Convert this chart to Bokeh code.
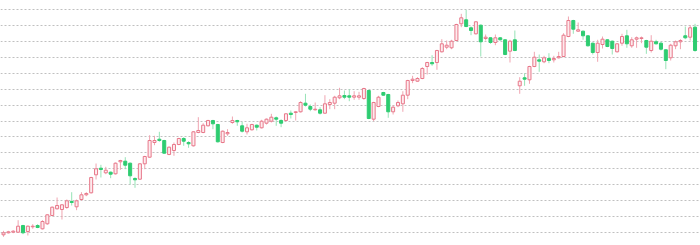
from bokeh.plotting import figure
from bokeh.models import ColumnDataSource, Range1d, FixedTicker
from bokeh.embed import file_html
from bokeh.resources import INLINE

opens = [10.7, 12.7, 13.3, 13.3, 20.0, 14.0, 18.7, 20.0, 16.7, 21.7,
         30.0, 36.7, 36.0, 38.0, 44.0, 38.7, 46.0, 50.7, 52.7, 70.7,
         77.3, 72.7, 73.3, 71.7, 83.7, 84.3, 82.3, 67.0, 66.3, 81.7,
         88.3, 103.0, 106.3, 105.0, 91.0, 95.0, 101.0, 107.0, 103.0, 99.7,
         113.0, 113.0, 119.7, 125.0, 121.0, 103.0, 111.7, 123.0, 125.0, 119.7,
         113.7, 115.7, 120.3, 117.7, 122.3, 124.3, 127.7, 125.0, 125.0, 132.3,
         133.0, 133.7, 142.3, 139.0, 135.7, 135.7, 132.3, 141.0, 142.3, 147.7,
         150.0, 149.7, 148.3, 148.3, 147.0, 155.0, 126.3, 139.0, 153.0, 151.0,
         133.7, 139.7, 141.7, 150.3, 165.0, 164.3, 167.0, 179.0, 183.0, 183.0,
         193.7, 198.3, 197.7, 205.0, 221.7, 225.7, 217.7, 211.7, 220.3, 207.0,
         207.7, 203.0, 207.7, 205.7, 194.3, 205.7, 159.7, 167.7, 165.7, 179.0,
         185.7, 183.7, 187.0, 185.7, 187.7, 189.0, 209.0, 225.0, 214.3, 214.3,
         209.7, 202.3, 193.0, 201.0, 205.7, 204.3, 193.7, 202.3, 209.7, 199.7,
         206.3, 207.0, 205.0, 195.0, 203.7, 202.3, 195.7, 187.7, 199.7, 203.7,
         209.7, 208.3, 218.3]
highs = [14.7, 14.7, 15.3, 25.3, 20.7, 20.0, 21.3, 21.3, 25.3, 31.3,
         39.0, 48.0, 41.3, 46.0, 53.3, 46.0, 53.3, 53.3, 68.7, 82.0,
         80.7, 78.7, 74.0, 83.0, 85.7, 88.3, 83.0, 68.3, 82.3, 89.7,
         110.3, 109.7, 113.7, 105.7, 99.0, 103.0, 107.7, 108.3, 104.3, 114.3,
         128.3, 122.3, 125.7, 125.7, 121.7, 115.0, 116.3, 129.0, 125.7, 123.7,
         121.7, 121.7, 121.0, 125.7, 127.0, 131.7, 129.0, 126.3, 132.3, 135.0,
         134.3, 144.3, 151.7, 141.0, 143.0, 138.3, 150.3, 146.3, 149.7, 157.7,
         155.0, 156.3, 154.3, 153.7, 157.7, 155.7, 143.7, 149.7, 153.7, 151.7,
         140.3, 145.0, 154.3, 165.7, 169.7, 168.3, 178.3, 183.7, 190.3, 195.7,
         206.3, 205.0, 205.7, 221.7, 231.7, 235.7, 219.0, 224.3, 221.0, 211.0,
         208.3, 211.0, 208.3, 206.3, 205.7, 215.0, 168.3, 172.3, 179.7, 193.7,
         191.0, 189.7, 192.3, 189.7, 193.7, 212.3, 229.0, 225.7, 223.0, 215.0,
         210.3, 203.0, 205.7, 209.0, 206.3, 205.0, 202.3, 211.7, 215.7, 208.3,
         209.0, 209.0, 205.7, 210.3, 205.7, 203.7, 196.3, 201.7, 205.0, 206.3,
         219.0, 220.3, 221.7]
lows = [8.7, 12.0, 12.3, 12.7, 11.3, 10.0, 16.7, 17.3, 16.0, 20.7,
        29.3, 36.0, 26.0, 36.7, 40.0, 35.3, 44.7, 49.3, 52.0, 66.0,
        68.0, 71.3, 67.3, 71.0, 75.7, 76.3, 61.0, 57.7, 65.7, 76.3,
        87.7, 100.3, 103.7, 91.7, 90.3, 89.7, 100.3, 99.7, 97.7, 99.0,
        112.3, 112.3, 119.0, 116.3, 103.0, 102.3, 109.7, 121.7, 119.7, 113.0,
        111.0, 115.0, 115.0, 117.0, 121.0, 123.0, 119.7, 118.3, 124.3, 127.0,
        125.0, 133.0, 139.0, 134.3, 135.0, 131.0, 131.7, 136.3, 136.3, 146.3,
        146.3, 144.3, 145.7, 145.7, 145.7, 126.3, 124.3, 138.3, 149.7, 127.7,
        131.0, 138.3, 133.7, 146.3, 162.3, 163.7, 166.3, 171.0, 179.7, 175.7,
        193.0, 196.3, 196.3, 204.3, 218.3, 218.3, 210.3, 211.0, 189.0, 205.0,
        201.7, 200.3, 205.0, 190.3, 183.0, 194.3, 151.7, 159.7, 161.7, 178.3,
        173.7, 182.3, 182.3, 183.0, 187.0, 188.3, 208.3, 211.7, 213.7, 205.7,
        199.0, 191.0, 183.7, 197.0, 198.3, 191.0, 193.0, 199.7, 197.7, 197.7,
        197.7, 202.3, 191.7, 193.0, 201.0, 195.0, 176.3, 185.0, 196.3, 196.3,
        206.3, 205.0, 193.7]
closes = [12.7, 13.7, 14.3, 19.3, 12.7, 19.3, 19.3, 18.0, 24.0, 30.7,
          38.3, 40.0, 40.7, 44.7, 43.0, 44.7, 50.7, 52.0, 68.0, 76.7,
          76.0, 75.3, 71.3, 82.3, 85.0, 80.3, 69.7, 65.7, 81.7, 89.0,
          105.0, 105.0, 105.0, 92.3, 98.3, 101.0, 107.0, 104.3, 101.7, 113.7,
          115.0, 120.3, 125.0, 121.7, 103.7, 114.3, 113.0, 125.0, 123.7, 114.3,
          117.7, 121.0, 118.3, 124.3, 126.3, 128.3, 126.3, 122.3, 131.7, 131.0,
          133.7, 143.0, 140.3, 136.3, 136.3, 132.3, 141.7, 143.0, 148.3, 149.7,
          148.3, 148.3, 149.7, 149.7, 157.0, 127.0, 143.0, 148.3, 150.3, 133.7,
          138.3, 143.0, 150.3, 165.0, 166.3, 167.0, 177.0, 183.0, 181.7, 195.0,
          201.7, 200.3, 204.3, 221.0, 227.7, 219.0, 215.0, 223.7, 203.7, 208.3,
          203.0, 207.7, 205.7, 191.0, 204.3, 195.0, 164.3, 166.3, 179.0, 188.3,
          184.3, 187.7, 185.0, 187.0, 189.0, 210.3, 225.0, 216.3, 215.7, 209.7,
          199.7, 193.0, 202.3, 206.3, 199.0, 197.0, 201.7, 209.0, 201.7, 205.7,
          207.7, 207.7, 198.3, 204.3, 201.7, 196.3, 185.0, 200.3, 203.7, 205.0,
          207.7, 217.7, 195.0]
grid_ticks = [13, 29, 45, 61, 77, 93, 109, 124.5, 140.5, 156.5, 172, 188, 204, 220, 236]

n = len(opens)
idx = list(range(n))
up = [c >= o for o, c in zip(opens, closes)]
down = [not u for u in up]


def pick(lst, mask):
    return [v for v, m in zip(lst, mask) if m]


up_src = ColumnDataSource(dict(
    x=pick(idx, up), o=pick(opens, up), h=pick(highs, up),
    l=pick(lows, up), c=pick(closes, up)))
dn_src = ColumnDataSource(dict(
    x=pick(idx, down), o=pick(opens, down), h=pick(highs, down),
    l=pick(lows, down), c=pick(closes, down)))

p = figure(width=700, height=245, output_backend="svg", toolbar_location=None,
           x_range=Range1d(-0.62, 143.12), y_range=Range1d(0, 245),
           min_border=0, min_border_left=0, min_border_right=0,
           min_border_top=0, min_border_bottom=0)
p.axis.visible = False
p.xgrid.visible = False
p.yaxis.ticker = FixedTicker(ticks=grid_ticks)
p.ygrid.ticker = FixedTicker(ticks=grid_ticks)
p.ygrid.grid_line_color = "#c0c0c0"
p.ygrid.grid_line_dash = "2 2"
p.ygrid.grid_line_width = 1
p.outline_line_color = None
p.background_fill_color = "white"
p.border_fill_color = "white"

RED_LINE = "#e8788a"
RED_WICK = "#f0a5b1"
RED_FILL = "#fdebee"
GREEN = "#2ecc71"
GREEN_WICK = "#96e3b6"

p.segment(x0="x", y0="h", x1="x", y1="l", source=up_src, line_color=RED_WICK, line_width=1)
p.segment(x0="x", y0="h", x1="x", y1="l", source=dn_src, line_color=GREEN_WICK, line_width=1)
p.vbar(x="x", top="c", bottom="o", width=0.62, source=up_src,
       fill_color=RED_FILL, line_color=RED_LINE, line_width=1)
p.vbar(x="x", top="o", bottom="c", width=0.62, source=dn_src,
       fill_color=GREEN, line_color=GREEN, line_width=1)

open("out.html", "w").write(file_html(p, INLINE))
